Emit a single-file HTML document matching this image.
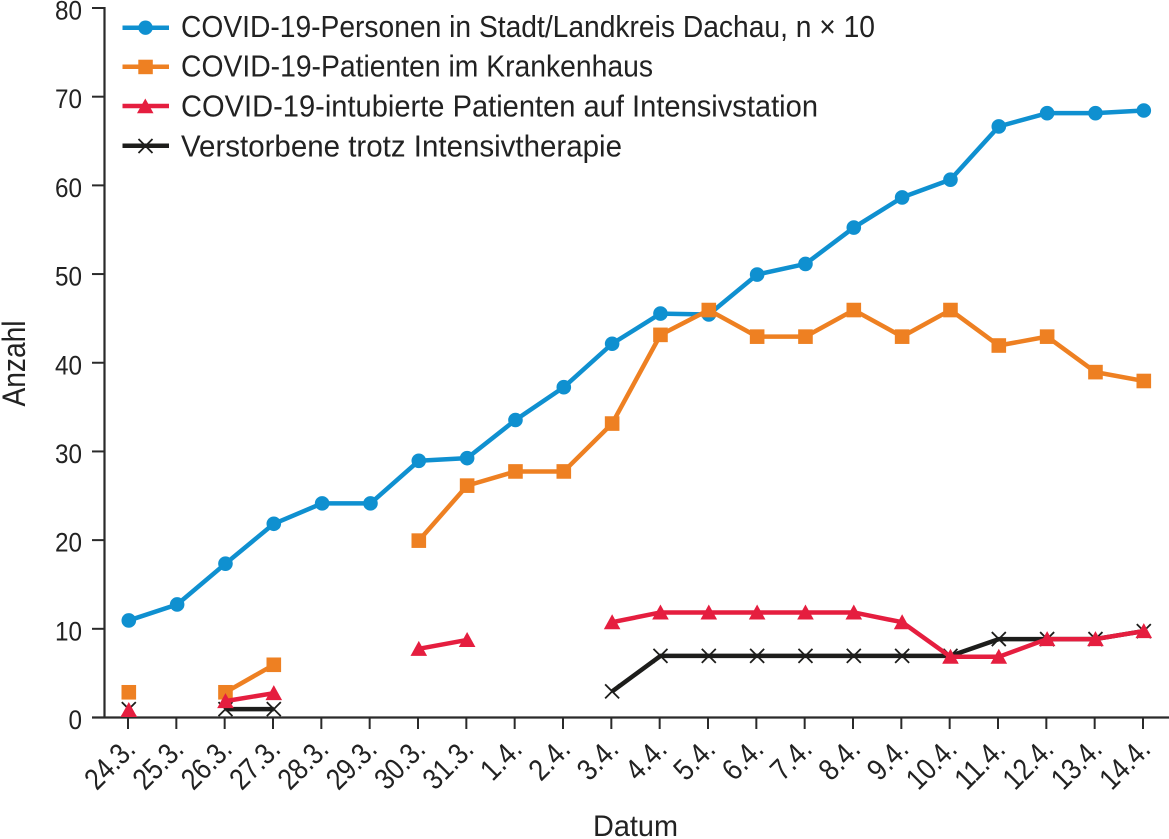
<!DOCTYPE html>
<html lang="de">
<head>
<meta charset="utf-8">
<title>COVID-19 Dachau</title>
<style>
html,body{margin:0;padding:0;background:#fff;width:1169px;height:839px;overflow:hidden}
svg{display:block}
text{font-family:"Liberation Sans",sans-serif;fill:#222}
</style>
</head>
<body>
<svg id="chart" width="1169" height="839" viewBox="0 0 1169 839" xmlns="http://www.w3.org/2000/svg">
  <g id="axes">
    <line x1="104.5" y1="7" x2="104.5" y2="718" stroke="#2a2a2a" stroke-width="2.2"/>
    <line x1="92" y1="717.5" x2="1169" y2="717.5" stroke="#2a2a2a" stroke-width="2.2"/>
  </g>
  <g id="yticks"></g>
  <g id="xticks"></g>
  <g id="series"></g>
  <text transform="translate(25,406.5) rotate(-90)" font-size="32" textLength="86" lengthAdjust="spacingAndGlyphs">Anzahl</text>
  <text x="593" y="836" font-size="30" textLength="85" lengthAdjust="spacingAndGlyphs">Datum</text>
  <g id="legend">
    <g>
      <line x1="122.5" y1="27.7" x2="169" y2="27.7" stroke="#0f90d0" stroke-width="4.5"/>
      <circle cx="145.5" cy="27.7" r="7.2" fill="#0f90d0"/>
      <text x="181" y="37" font-size="31" textLength="694" lengthAdjust="spacingAndGlyphs">COVID-19-Personen in Stadt/Landkreis Dachau, n × 10</text>
    </g>
    <g>
      <line x1="122.5" y1="66.7" x2="169" y2="66.7" stroke="#ee8022" stroke-width="4.5"/>
      <rect x="138.3" y="59.7" width="14.5" height="14.5" fill="#ee8022"/>
      <text x="181" y="76.5" font-size="31" textLength="472" lengthAdjust="spacingAndGlyphs">COVID-19-Patienten im Krankenhaus</text>
    </g>
    <g>
      <line x1="122.5" y1="106" x2="169" y2="106" stroke="#e51e3f" stroke-width="4.5"/>
      <polygon points="145.3,98.5 153.5,113.3 137,113.3" fill="#e51e3f"/>
      <text x="181" y="116.5" font-size="31" textLength="637" lengthAdjust="spacingAndGlyphs">COVID-19-intubierte Patienten auf Intensivstation</text>
    </g>
    <g>
      <line x1="122.5" y1="145.7" x2="169" y2="145.7" stroke="#1d1d1b" stroke-width="4.5"/>
      <path d="M138.5 139L152.5 153M152.5 139L138.5 153" stroke="#1d1d1b" stroke-width="1.8" fill="none"/>
      <text x="181" y="156.5" font-size="31" textLength="441" lengthAdjust="spacingAndGlyphs">Verstorbene trotz Intensivtherapie</text>
    </g>
  </g>
</svg>
<script>
const categories = ["24.3.","25.3.","26.3.","27.3.","28.3.","29.3.","30.3.","31.3.","1.4.","2.4.","3.4.","4.4.","5.4.","6.4.","7.4.","8.4.","9.4.","10.4.","11.4.","12.4.","13.4.","14.4."];
const yTickLabels = [0,10,20,30,40,50,60,70,80];
const personen = [11,12.8,17.4,21.9,24.2,24.2,29,29.3,33.6,37.3,42.2,45.6,45.5,50,51.2,55.3,58.7,60.7,66.7,68.2,68.2,68.5];
const krankenhaus = [2.9,null,2.9,6,null,null,20,26.2,27.8,27.8,33.2,43.2,46,43,43,46,43,46,42,43,39,38];
const intubiert = [0.9,null,1.9,2.8,null,null,7.8,8.8,null,null,10.8,11.9,11.9,11.9,11.9,11.9,10.8,6.9,6.9,8.9,8.9,9.8];
const verstorbene = [1,null,1,1,null,null,null,null,null,null,3,7,7,7,7,7,7,7,8.9,8.9,8.9,9.8];

const NS = "http://www.w3.org/2000/svg";
const xScale = i => 128 + i * (1143 - 128) / (categories.length - 1);
const yScale = v => 717.5 - v * (717.5 - 8) / 80;
const markX = i => xScale(i) + 0.8;
const markY = v => yScale(v) + 0.5;

function mk(parent, tag, attrs) {
  const el = document.createElementNS(NS, tag);
  for (const k in attrs) el.setAttribute(k, attrs[k]);
  parent.appendChild(el);
  return el;
}

const yG = document.getElementById("yticks");
yTickLabels.forEach(v => {
  const t = mk(yG, "line", {x1: 92, x2: 104, y1: yScale(v), y2: yScale(v), stroke: "#2a2a2a", "stroke-width": 2});
  
  
  const l = mk(yG, "text", {x: 82, y: yScale(v) + 11.5, "font-size": 27, "text-anchor": "end", textLength: v === 0 ? 13.5 : 27, lengthAdjust: "spacingAndGlyphs"});
  
  
  l.textContent = v;
});

const xG = document.getElementById("xticks");
categories.forEach((c, i) => {
  const x = xScale(i);
  const t = mk(xG, "line", {x1: x, x2: x, y1: 717.5, y2: 729, stroke: "#2a2a2a", "stroke-width": 2});
  
  
  const l = mk(xG, "text", {transform: `translate(${x + 9},${751}) rotate(-45)`, "font-size": 30, "text-anchor": "end", textLength: c.length > 4 ? 57 : 44, lengthAdjust: "spacingAndGlyphs"});
  
  
  l.textContent = c;
});

const sG = document.getElementById("series");

function drawLine(values, color, name) {
  let seg = [];
  const flush = () => {
    if (seg.length > 1) {
      const p = mk(sG, "polyline", {points: seg.join(" "), fill: "none", stroke: color, "stroke-width": 4.5, "stroke-linejoin": "round"});
      
      
    }
    seg = [];
  };
  values.forEach((v, i) => {
    if (v === null) flush();
    else seg.push(markX(i) + "," + markY(v));
  });
  flush();
}

function drawMarkers(values, name, draw) {
  values.forEach((v, i) => {
    if (v === null) return;
    const m = draw(markX(i), markY(v));
    
    
  });
}

// Same stacking as the reference: blue, black, orange, red
drawLine(personen, "#0f90d0", "personen");
drawMarkers(personen, "personen", (x, y) => mk(sG, "circle", {cx: x, cy: y, r: 7.3, fill: "#0f90d0"}));

drawLine(verstorbene, "#1d1d1b", "verstorbene");
drawMarkers(verstorbene, "verstorbene", (x, y) => mk(sG, "path", {d: `M${x-7} ${y-7}L${x+7} ${y+7}M${x+7} ${y-7}L${x-7} ${y+7}`, stroke: "#1d1d1b", "stroke-width": 1.8, fill: "none"}));

drawLine(krankenhaus, "#ee8022", "krankenhaus");
drawMarkers(krankenhaus, "krankenhaus", (x, y) => mk(sG, "rect", {x: x - 7.3, y: y - 7.3, width: 14.6, height: 14.6, fill: "#ee8022"}));

drawLine(intubiert, "#e51e3f", "intubiert");
drawMarkers(intubiert, "intubiert", (x, y) => mk(sG, "polygon", {points: `${x},${y-8} ${x+8.3},${y+7} ${x-8.3},${y+7}`, fill: "#e51e3f"}));
</script>
</body>
</html>
